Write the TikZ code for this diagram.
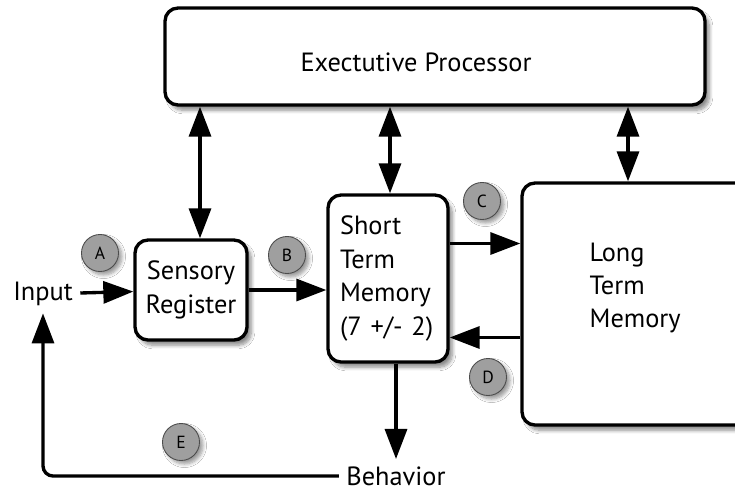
\documentclass[tikz,border=0pt]{standalone}
\usepackage{fontspec}
\setmainfont{PT Sans}
\usetikzlibrary{arrows.meta,positioning,shadows.blur}

\begin{document}
\begin{tikzpicture}[line width=1.9pt, font=\fontsize{15}{19}\selectfont,
		>={Triangle[length=0.6cm,width=0.44cm]}]
		
		\tikzset{
			box/.style={draw, rounded corners=0.26cm, fill=white,
				blur shadow={shadow xshift=2.5pt, shadow yshift=-3pt, shadow opacity=45, shadow blur steps=8}},
			tag/.style={circle, draw=black!70, line width=0.5pt, fill=gray!75, minimum size=0.74cm,
				inner sep=0pt, font=\fontsize{10}{10}\selectfont,
				blur shadow={shadow xshift=2pt, shadow yshift=-2pt, shadow opacity=40, shadow blur steps=6}},
		}
		
		\fill[white] (0,0) rectangle (14.7,9.86);
		\useasboundingbox (0,0) rectangle (14.7,9.86);
		
		% boxes
		\node [box, minimum width=10.8cm, minimum height=1.94cm] (exec) at (8.7,8.73) {};
		\node (exectext) at (8.32,8.62) {Exectutive Processor};
		\node [box, minimum width=2.24cm, minimum height=2cm, align=center] (sensory) at (3.82,4.06) {Sensory\\Register};
		\node [box, minimum width=2.4cm, minimum height=3.34cm, align=left, text width=1.92cm, inner sep=0pt] (stm) at (7.76,4.29) {Short\\Term\\Memory\\(7 +/- 2)};
		\node [box, minimum width=4.76cm, minimum height=4.84cm] (ltm) at (12.82,3.78) {};
		\node [anchor=west, align=left, inner sep=0pt] (ltmtext) at (11.76,4.1) {Long\\Term\\Memory};
		
		\node (input) at (0.86,3.98) {Input};
		\node (behavior) at (7.92,0.34) {Behavior};
		
		% flow
		\draw [->] (input) -- (sensory);
		\draw [->] (sensory.east) -- (sensory.east -| stm.west);
		\draw [->] ([yshift=0.7cm]stm.east) -- ([yshift=0.7cm]stm.east -| ltm.west);
		\draw [->] ([yshift=-1.18cm]stm.east -| ltm.west) -- ([yshift=-1.18cm]stm.east);
		\draw [->] (stm.south -| behavior.north) -- (behavior.north);
		\draw [->, rounded corners=0.2cm] (behavior.west) -| (input.south);
		
		% executive links
		\draw [<->] ([xshift=0.18cm]sensory.north) -- ([xshift=0.18cm]sensory.north |- exec.south);
		\draw [<->] ([xshift=0.04cm]stm.north) -- ([xshift=0.04cm]stm.north |- exec.south);
		\draw [<->] ([xshift=-0.26cm]ltm.north) -- ([xshift=-0.26cm]ltm.north |- exec.south);
		
		% stage tags
		\node [tag] (tagA) at (2.0,4.8) {A};
		\node [tag] (tagB) at (5.74,4.76) {B};
		\node [tag] (tagC) at (9.64,5.84) {C};
		\node [tag] (tagD) at (9.76,2.32) {D};
		\node [tag] (tagE) at (3.62,1.02) {E};
		
\end{tikzpicture}
\end{document}
